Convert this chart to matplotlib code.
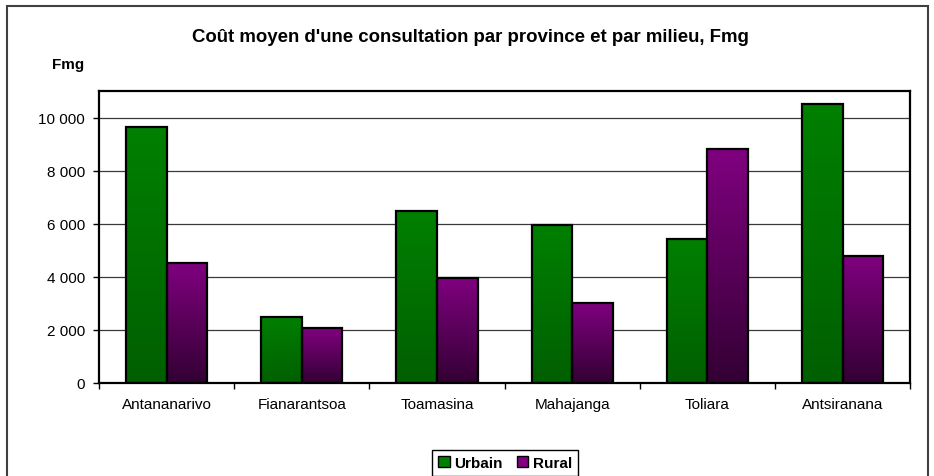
import matplotlib
matplotlib.use("Agg")
import matplotlib.pyplot as plt
import numpy as np
from matplotlib.colors import to_rgb
from matplotlib.patches import Patch, Rectangle

provinces = ["Antananarivo", "Fianarantsoa", "Toamasina", "Mahajanga", "Toliara", "Antsiranana"]
urbain = [9650, 2500, 6480, 5950, 5430, 10530]
rural = [4540, 2060, 3960, 3030, 8820, 4770]
yticks = [0, 2000, 4000, 6000, 8000, 10000]

plt.rcParams["font.family"] = ["Liberation Sans", "DejaVu Sans"]

GREEN_TOP, GREEN_BOT = "#008000", "#005f00"
PURPLE_TOP, PURPLE_BOT = "#800080", "#330033"


def gradient_fill(ax, bars, top, bottom):
    c0 = np.array(to_rgb(top))
    c1 = np.array(to_rgb(bottom))
    t = np.linspace(0, 1, 256)[:, None, None]
    img = c0 + (c1 - c0) * t
    for b in bars:
        x, w, h = b.get_x(), b.get_width(), b.get_height()
        ax.imshow(img, extent=(x, x + w, 0, h), origin="upper",
                  aspect="auto", zorder=2, interpolation="bilinear")


fig = plt.figure(figsize=(9.34, 4.77), dpi=100)
ax = fig.add_axes([0.106, 0.195, 0.8685, 0.6115])

x = np.arange(len(provinces))
w = 0.3
b1 = ax.bar(x - w / 2, urbain, w, facecolor="none", edgecolor="black", linewidth=1.6, zorder=3)
b2 = ax.bar(x + w / 2, rural, w, facecolor="none", edgecolor="black", linewidth=1.6, zorder=3)
gradient_fill(ax, b1, GREEN_TOP, GREEN_BOT)
gradient_fill(ax, b2, PURPLE_TOP, PURPLE_BOT)

ax.set_xlim(-0.5, len(provinces) - 0.5)
ax.set_ylim(0, 11000)
ax.set_yticks(yticks)
ax.set_yticklabels([f"{v:,}".replace(",", " ") for v in yticks])
ax.yaxis.grid(True, color="#3a3a3a", linewidth=0.9)
ax.set_axisbelow(True)

ax.set_xticks(np.arange(-0.5, len(provinces), 1.0))
ax.set_xticklabels([])
ax.set_xticks(x, minor=True)
ax.set_xticklabels(provinces, minor=True)
ax.tick_params(axis="x", which="major", length=4, width=1, direction="out")
ax.tick_params(axis="x", which="minor", length=0, pad=10, labelsize=11)
ax.tick_params(axis="y", length=4, width=1, direction="out", pad=6, labelsize=11)

for s in ax.spines.values():
    s.set_linewidth(1.6)
    s.set_color("black")

fig.text(0.504, 0.922, "Coût moyen d'une consultation par province et par milieu, Fmg",
         ha="center", va="center", fontsize=13.4, fontweight="bold")
fig.text(0.0733, 0.864, "Fmg", ha="center", va="center", fontsize=11, fontweight="bold")

fig.patches.append(Rectangle((7 / 934, -0.05), 921 / 934, 1.05 - 7 / 477,
                             transform=fig.transFigure, fill=False,
                             edgecolor="#404040", linewidth=1.5))

handles = [Patch(facecolor=GREEN_TOP, edgecolor="black", label="Urbain"),
           Patch(facecolor=PURPLE_TOP, edgecolor="black", label="Rural")]
fig.legend(handles=handles, loc="upper center", bbox_to_anchor=(0.5407, 1 - 451 / 477),
           ncol=2, frameon=True, fancybox=False, edgecolor="black", framealpha=1,
           prop={"weight": "bold", "size": 11}, handlelength=0.75, handleheight=0.75,
           handletextpad=0.3, columnspacing=0.9, borderpad=0.4, borderaxespad=0)

fig.savefig("out.png", dpi=100)
